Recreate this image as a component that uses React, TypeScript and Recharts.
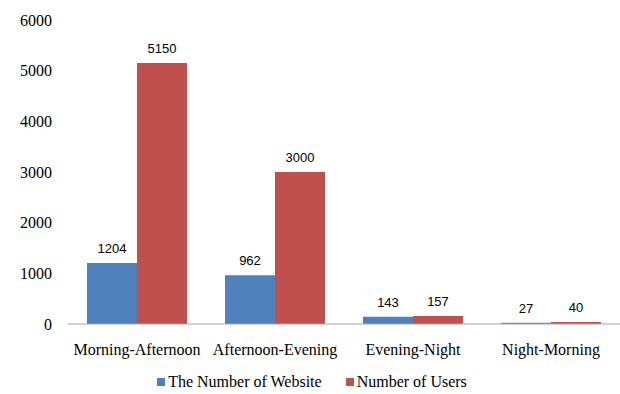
import { Bar, BarChart, LabelList, Legend, XAxis, YAxis } from "recharts";

const periods = ["Morning-Afternoon", "Afternoon-Evening", "Evening-Night", "Night-Morning"];
const websites = [1204, 962, 143, 27];
const users = [5150, 3000, 157, 40];
const yTicks = [0, 1000, 2000, 3000, 4000, 5000, 6000];

const rows = periods.map((p, i) => ({ period: p, websites: websites[i], users: users[i] }));

const BLUE = "#4F81BD";
const RED = "#C0504D";
const serif = "Liberation Serif, Times New Roman, serif";
const sans = "Liberation Sans, Arial, sans-serif";

function LegendBox() {
  const items = [
    { label: "The Number of Website", color: BLUE },
    { label: "Number of Users", color: RED },
  ];
  return (
    <div style={{ display: "flex", justifyContent: "center", gap: 24, fontFamily: serif, fontSize: 16, color: "#000", paddingLeft: 4, paddingTop: 9 }}>
      {items.map((it) => (
        <span key={it.label} style={{ display: "flex", alignItems: "center" }}>
          <span style={{ width: 8, height: 8, background: it.color, marginRight: 3, display: "inline-block" }} />
          {it.label}
        </span>
      ))}
    </div>
  );
}

export default function App() {
  return (
    <div style={{ position: "absolute", left: 0, top: 0, background: "#fff", fontFamily: serif }}>
      <BarChart
        width={620}
        height={394}
        data={rows}
        margin={{ top: 20, right: 0, left: 0, bottom: 0 }}
        barCategoryGap={19}
        barGap={0}
        style={{ fontFamily: serif }}
      >
        <XAxis
          dataKey="period"
          interval={0}
          tickLine={false}
          axisLine={{ stroke: "#a6a6a6" }}
          height={40}
          tickMargin={14}
          tick={{ fill: "#000", fontSize: 16, fontFamily: serif }}
        />
        <YAxis
          domain={[0, 6000]}
          ticks={yTicks}
          width={68}
          axisLine={false}
          tickLine={false}
          tickMargin={10}
          tick={{ fill: "#000", fontSize: 16, fontFamily: serif }}
        />
        <Legend verticalAlign="bottom" height={30} content={() => <LegendBox />} />
        <Bar dataKey="websites" fill={BLUE} isAnimationActive={false}>
          <LabelList dataKey="websites" position="top" offset={10} fill="#000" fontSize={13} fontFamily={sans} />
        </Bar>
        <Bar dataKey="users" fill={RED} isAnimationActive={false}>
          <LabelList dataKey="users" position="top" offset={10} fill="#000" fontSize={13} fontFamily={sans} />
        </Bar>
      </BarChart>
    </div>
  );
}
